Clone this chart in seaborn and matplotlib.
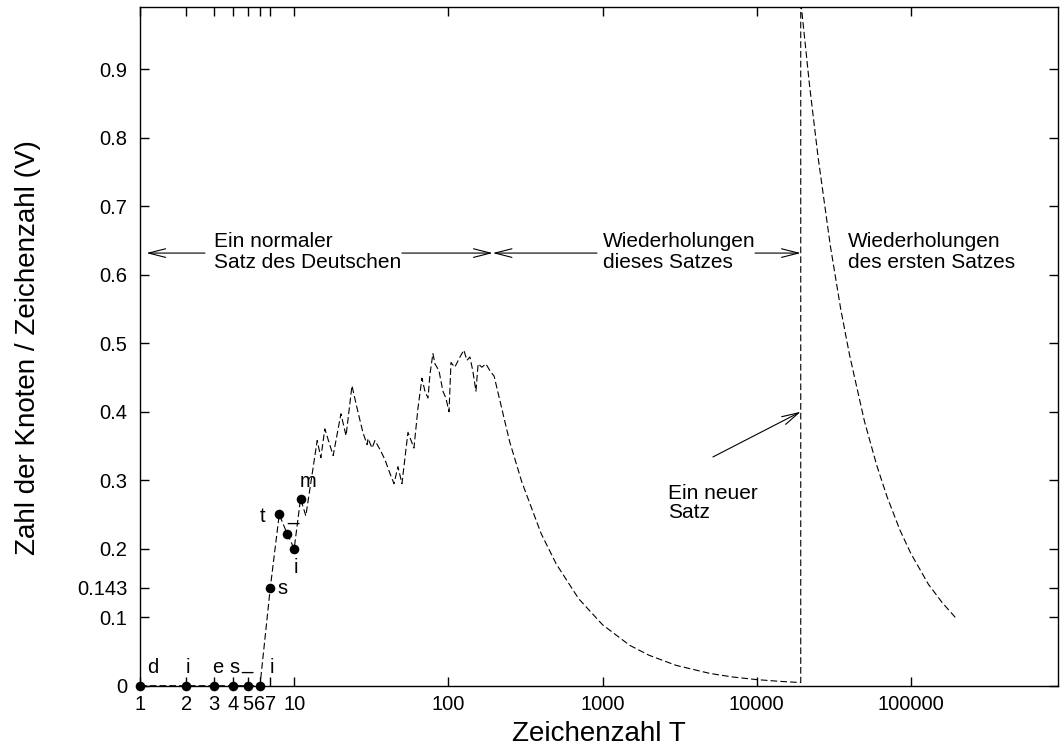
import matplotlib
matplotlib.use("Agg")
import matplotlib.pyplot as plt
import seaborn as sns
import pandas as pd

# ---------------- data ----------------
dot_T = [1, 2, 3, 4, 5, 6, 7, 8, 9, 10, 11]
dot_V = [0, 0, 0, 0, 0, 0, 0.143, 0.25, 0.222, 0.2, 0.273]
dot_letters = ["d", "i", "e", "s", "_", "i", "s", "t", "_", "i", "m"]

noisy_T = [11.9, 14.1, 14.9, 15.8, 17.9, 20.1, 21.7, 23.7, 25.9, 27.9, 29.7,
           30.1, 32.0, 33.4, 36.0, 38.8, 41.8, 44.4, 47.1, 50.0, 54.7, 59.8,
           63.5, 67.4, 70.5, 73.8, 76.0, 79.4, 81.9, 86.9, 92.2, 96.4, 101,
           104, 110, 119, 126, 132, 138, 144, 151, 156, 165, 175, 186, 198]
noisy_V = [0.248, 0.358, 0.333, 0.375, 0.336, 0.397, 0.365, 0.438, 0.40,
           0.37, 0.352, 0.361, 0.347, 0.358, 0.345, 0.33, 0.31, 0.295, 0.32,
           0.295, 0.37, 0.347, 0.405, 0.449, 0.43, 0.42, 0.455, 0.485, 0.47,
           0.46, 0.43, 0.42, 0.40, 0.472, 0.465, 0.48, 0.49, 0.475, 0.48,
           0.46, 0.43, 0.47, 0.465, 0.47, 0.46, 0.452]

decay1_T = [250, 300, 400, 500, 700, 1000, 1500, 2000, 3000, 5000, 7000,
            10000, 14000, 19300]
decay1_V = [0.356, 0.297, 0.222, 0.178, 0.127, 0.089, 0.059, 0.0445, 0.0297,
            0.0178, 0.0127, 0.0089, 0.0064, 0.0046]

decay2_T = [19300, 22000, 25000, 30000, 35000, 40000, 50000, 60000, 70000,
            85000, 100000, 130000, 160000, 200000]
decay2_V = [1.0, 0.877, 0.772, 0.643, 0.551, 0.483, 0.386, 0.322, 0.276,
            0.227, 0.193, 0.148, 0.121, 0.0965]

x_ticks = [1, 2, 3, 4, 5, 6, 7, 10, 100, 1000, 10000, 100000]
x_ticklabels = ["1", "2", "3", "4", "5", "6", "7", "10", "100", "1000",
                "10000", "100000"]
y_ticks = [0, 0.1, 0.143, 0.2, 0.3, 0.4, 0.5, 0.6, 0.7, 0.8, 0.9]
y_ticklabels = ["0", "0.1", "0.143", "0.2", "0.3", "0.4", "0.5", "0.6",
                "0.7", "0.8", "0.9"]

# ---------------- styling ----------------
sns.set_theme(style="ticks")
plt.rcParams["font.family"] = ["Liberation Sans", "DejaVu Sans"]
plt.rcParams["axes.linewidth"] = 1.0
plt.rcParams["text.color"] = "black"
plt.rcParams["axes.labelcolor"] = "black"

fig = plt.figure(figsize=(10.6, 7.5), dpi=100)
ax = fig.add_axes([0.13208, 0.08573, 0.86604, 0.90493])

line_df = pd.DataFrame({
    "T": dot_T + noisy_T + decay1_T + decay2_T,
    "V": dot_V + noisy_V + decay1_V + decay2_V,
})
sns.lineplot(data=line_df, x="T", y="V", sort=False, estimator=None,
             color="black", lw=0.8, linestyle=(0, (6, 2.8)), ax=ax)

dot_df = pd.DataFrame({"T": dot_T, "V": dot_V})
sns.scatterplot(data=dot_df, x="T", y="V", color="black", s=48,
                edgecolor="black", linewidth=0, ax=ax, zorder=5, clip_on=False)

ax.set_xscale("log")
ax.set_xlim(1, 9.0e5)
ax.set_ylim(0, 0.991)
ax.set_xticks(x_ticks)
ax.set_xticklabels(x_ticklabels)
ax.xaxis.set_minor_locator(matplotlib.ticker.NullLocator())
ax.set_yticks(y_ticks)
ax.set_yticklabels(y_ticklabels)
ax.tick_params(axis="both", which="major", direction="in", length=6.5,
               width=1.0, labelsize=14.5, top=True, right=True, color="black",
               labelcolor="black")
ax.tick_params(axis="x", pad=7)
ax.tick_params(axis="y", pad=9)
for sp in ax.spines.values():
    sp.set_visible(True)
    sp.set_color("black")
    sp.set_linewidth(1.0)

ax.set_xlabel("Zeichenzahl T", fontsize=20, color="black")
ax.set_ylabel("Zahl der Knoten / Zeichenzahl (V)", fontsize=20, color="black")
ax.xaxis.set_label_coords(0.5, -0.052)
ax.yaxis.set_label_coords(-0.108, 0.4976)

# letter labels at the first points
letter_pos = [(1.21, 0.0185), (2.05, 0.0185), (3.2, 0.0185), (4.07, 0.0185),
              (4.94, 0.025), (7.18, 0.0185), (8.45, 0.134), (6.19, 0.239),
              (9.75, 0.242), (10.27, 0.164), (12.3, 0.29)]
for (lx, ly), ch in zip(letter_pos, dot_letters):
    ax.text(lx, ly, ch, fontsize=14.5, ha="center", va="baseline",
            color="black")

# region texts
tfs = 15
ax.text(3.02, 0.6405, "Ein normaler", fontsize=tfs, va="baseline")
ax.text(3.02, 0.6098, "Satz des Deutschen", fontsize=tfs, va="baseline")
ax.text(1006, 0.6405, "Wiederholungen", fontsize=tfs, va="baseline")
ax.text(1006, 0.6098, "dieses Satzes", fontsize=tfs, va="baseline")
ax.text(39000, 0.6405, "Wiederholungen", fontsize=tfs, va="baseline")
ax.text(39000, 0.6098, "des ersten Satzes", fontsize=tfs, va="baseline")
ax.text(2660, 0.2725, "Ein neuer", fontsize=tfs, va="baseline")
ax.text(2660, 0.2445, "Satz", fontsize=tfs, va="baseline")

arr = dict(arrowstyle="->, head_length=0.61, head_width=0.155", lw=0.8,
           color="black", shrinkA=0, shrinkB=0, mutation_scale=20)
ya = 0.6317
for start, tip in [(2.64, 1.1), (50, 194), (921, 194), (9750, 19300)]:
    ax.annotate("", xy=(tip, ya), xytext=(start, ya), arrowprops=arr)
ax.annotate("", xy=(19300, 0.40), xytext=(5200, 0.334), arrowprops=arr)

fig.savefig("out.png", dpi=100)
